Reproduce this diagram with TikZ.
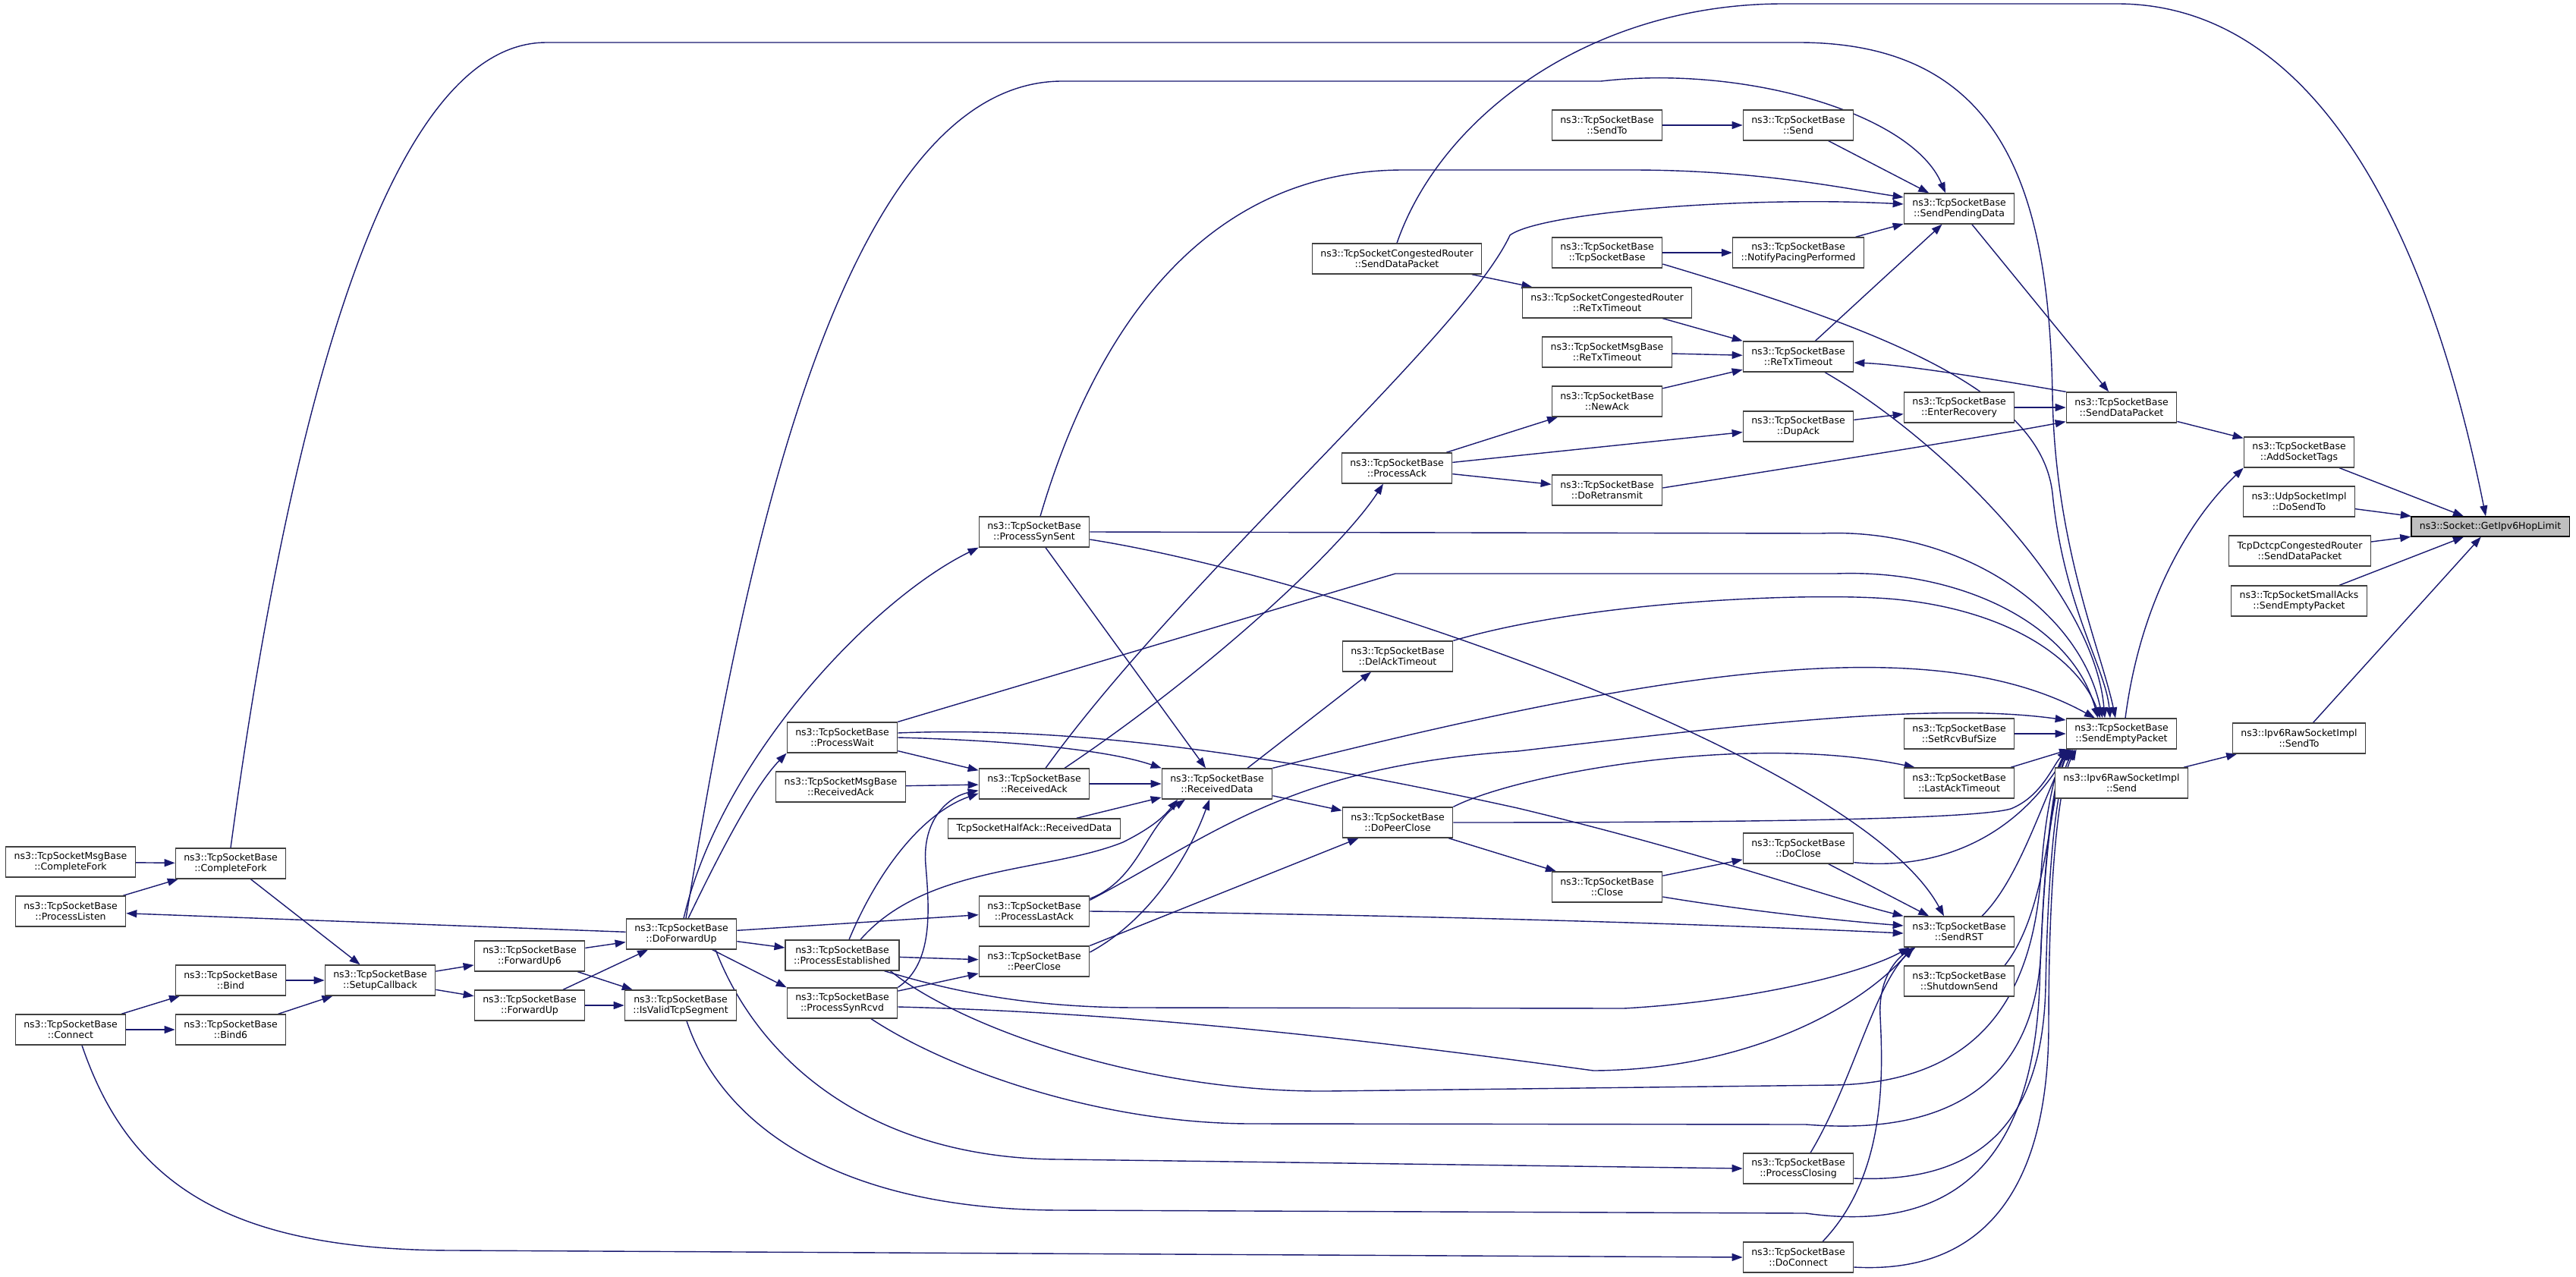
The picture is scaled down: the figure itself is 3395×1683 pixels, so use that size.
\documentclass[tikz,border=0pt]{standalone}
\usepackage{fontspec}
\setmainfont{DejaVu Sans}
\usetikzlibrary{arrows.meta,backgrounds}
\definecolor{edgeblue}{HTML}{191970}
\definecolor{boxgrey}{HTML}{404040}
\definecolor{hitgrey}{HTML}{BFBFBF}
\begin{document}
\begin{tikzpicture}[x=1pt,y=-1pt,
  fn/.style={draw=boxgrey,line width=1.3pt,fill=white,align=center,inner xsep=11pt,inner ysep=2pt,minimum height=40pt,font=\fontsize{12.5}{14}\selectfont},
  fnone/.style={fn,minimum height=26pt},
  call/.style={draw=edgeblue,line width=1.4pt,-{Triangle[length=14pt,width=10pt]}}]
\useasboundingbox (0,0) rectangle (3395,1683);
\node[fn] (msgcfork) at (93,1136) {ns3::TcpSocketMsgBase\\::CompleteFork};
\node[fn] (plisten) at (93,1201) {ns3::TcpSocketBase\\::ProcessListen};
\node[fn] (connect) at (93,1357) {ns3::TcpSocketBase\\::Connect};
\node[fn] (cfork) at (304,1138) {ns3::TcpSocketBase\\::CompleteFork};
\node[fn] (bind) at (304,1292) {ns3::TcpSocketBase\\::Bind};
\node[fn] (bindsix) at (304,1357) {ns3::TcpSocketBase\\::Bind6};
\node[fn] (setupcb) at (501,1292) {ns3::TcpSocketBase\\::SetupCallback};
\node[fn] (fwdsix) at (698,1260) {ns3::TcpSocketBase\\::ForwardUp6};
\node[fn] (fwd) at (698,1325) {ns3::TcpSocketBase\\::ForwardUp};
\node[fn] (dofwd) at (898,1231) {ns3::TcpSocketBase\\::DoForwardUp};
\node[fn] (isvalid) at (897,1325) {ns3::TcpSocketBase\\::IsValidTcpSegment};
\node[fn] (pwait) at (1110,972) {ns3::TcpSocketBase\\::ProcessWait};
\node[fn] (msgrack) at (1108,1037) {ns3::TcpSocketMsgBase\\::ReceivedAck};
\node[fn] (pest) at (1110,1259) {ns3::TcpSocketBase\\::ProcessEstablished};
\node[fn] (psynrcvd) at (1110,1322) {ns3::TcpSocketBase\\::ProcessSynRcvd};
\node[fn] (psynsent) at (1363,701) {ns3::TcpSocketBase\\::ProcessSynSent};
\node[fn] (rack) at (1363,1033) {ns3::TcpSocketBase\\::ReceivedAck};
\node[fnone] (halfack) at (1363,1092) {TcpSocketHalfAck::ReceivedData};
\node[fn] (plastack) at (1363,1201) {ns3::TcpSocketBase\\::ProcessLastAck};
\node[fn] (peerclose) at (1363,1267) {ns3::TcpSocketBase\\::PeerClose};
\node[fn] (rdata) at (1604,1033) {ns3::TcpSocketBase\\::ReceivedData};
\node[fn] (crsend) at (1841,341) {ns3::TcpSocketCongestedRouter\\::SendDataPacket};
\node[fn] (pack) at (1841,617) {ns3::TcpSocketBase\\::ProcessAck};
\node[fn] (delack) at (1842,865) {ns3::TcpSocketBase\\::DelAckTimeout};
\node[fn] (dopeer) at (1842,1084) {ns3::TcpSocketBase\\::DoPeerClose};
\node[fn] (sendto) at (2118,165) {ns3::TcpSocketBase\\::SendTo};
\node[fn] (tsb) at (2118,333) {ns3::TcpSocketBase\\::TcpSocketBase};
\node[fn] (crretx) at (2118,399) {ns3::TcpSocketCongestedRouter\\::ReTxTimeout};
\node[fn] (msgretx) at (2118,464) {ns3::TcpSocketMsgBase\\::ReTxTimeout};
\node[fn] (newack) at (2118,529) {ns3::TcpSocketBase\\::NewAck};
\node[fn] (doretx) at (2118,646) {ns3::TcpSocketBase\\::DoRetransmit};
\node[fn] (close) at (2118,1169) {ns3::TcpSocketBase\\::Close};
\node[fn] (send) at (2370,165) {ns3::TcpSocketBase\\::Send};
\node[fn] (pacing) at (2370,333) {ns3::TcpSocketBase\\::NotifyPacingPerformed};
\node[fn] (retx) at (2370,470) {ns3::TcpSocketBase\\::ReTxTimeout};
\node[fn] (dupack) at (2370,562) {ns3::TcpSocketBase\\::DupAck};
\node[fn] (doclose) at (2370,1118) {ns3::TcpSocketBase\\::DoClose};
\node[fn] (pclosing) at (2370,1540) {ns3::TcpSocketBase\\::ProcessClosing};
\node[fn] (doconn) at (2370,1657) {ns3::TcpSocketBase\\::DoConnect};
\node[fn] (spd) at (2582,275) {ns3::TcpSocketBase\\::SendPendingData};
\node[fn] (enterrec) at (2582,537) {ns3::TcpSocketBase\\::EnterRecovery};
\node[fn] (rcvbuf) at (2582,967) {ns3::TcpSocketBase\\::SetRcvBufSize};
\node[fn] (lastack) at (2582,1032) {ns3::TcpSocketBase\\::LastAckTimeout};
\node[fn] (sendrst) at (2582,1228) {ns3::TcpSocketBase\\::SendRST};
\node[fn] (shutdown) at (2582,1293) {ns3::TcpSocketBase\\::ShutdownSend};
\node[fn] (sdp) at (2796,537) {ns3::TcpSocketBase\\::SendDataPacket};
\node[fn] (sep) at (2796,967) {ns3::TcpSocketBase\\::SendEmptyPacket};
\node[fn] (rawsend) at (2796,1032) {ns3::Ipv6RawSocketImpl\\::Send};
\node[fn] (addtags) at (3030,596) {ns3::TcpSocketBase\\::AddSocketTags};
\node[fn] (udpsend) at (3030,661) {ns3::UdpSocketImpl\\::DoSendTo};
\node[fn] (dctcp) at (3031,726) {TcpDctcpCongestedRouter\\::SendDataPacket};
\node[fn] (smallacks) at (3030,792) {ns3::TcpSocketSmallAcks\\::SendEmptyPacket};
\node[fn] (rawsendto) at (3030,973) {ns3::Ipv6RawSocketImpl\\::SendTo};
\node[fnone,fill=hitgrey,draw=black] (hoplimit) at (3282,694) {ns3::Socket::GetIpv6HopLimit};
\begin{scope}[on background layer]
\draw[call] (msgcfork) -- (cfork);
\draw[call] (plisten) -- (cfork);
\draw[call] (cfork) -- (setupcb);
\draw[call] (dofwd) -- (plisten);
\draw[call] (connect) -- (bind);
\draw[call] (connect) -- (bindsix);
\draw[call] (bind) -- (setupcb);
\draw[call] (bindsix) -- (setupcb);
\draw[call] (setupcb) -- (fwdsix);
\draw[call] (setupcb) -- (fwd);
\draw[call] (fwdsix) -- (dofwd);
\draw[call] (fwd) -- (dofwd);
\draw[call] (fwdsix) -- (isvalid);
\draw[call] (fwd) -- (isvalid);
\draw[call] (dofwd) -- (plastack);
\draw[call] (dofwd) -- (pest);
\draw[call] (dofwd) -- (psynrcvd.north west);
\draw[call] (pwait) -- (rack);
\draw[call] (msgrack) -- (rack);
\draw[call] (rack) -- (rdata);
\draw[call] (halfack) -- (rdata);
\draw[call] (psynsent) -- (rdata);
\draw[call] (rdata) -- (dopeer);
\draw[call] ([xshift=40pt]rdata.north) -- ([xshift=-35pt]delack.south);
\draw[call] (pest) -- (peerclose);
\draw[call] (psynrcvd) -- (peerclose);
\draw[call] (peerclose.north east) -- (dopeer);
\draw[call] (dopeer) -- (close);
\draw[call] (close) -- (doclose);
\draw[call] (doclose) -- (sendrst);
\draw[call] (crsend) -- (crretx);
\draw[call] (crretx) -- (retx);
\draw[call] (msgretx) -- (retx);
\draw[call] (newack) -- (retx);
\draw[call] (pack) -- (newack);
\draw[call] (pack) -- (dupack);
\draw[call] (pack) -- (doretx);
\draw[call] (dupack) -- (enterrec);
\draw[call] (enterrec) -- (sdp);
\draw[call] (sendto) -- (send);
\draw[call] (send) -- (spd);
\draw[call] (tsb) -- (pacing);
\draw[call] (pacing) -- (spd);
\draw[call] (retx) -- (spd);
\draw[call] (spd) -- (sdp);
\draw[call] (sdp) -- (addtags);
\draw[call] (addtags) -- (hoplimit);
\draw[call] (udpsend) -- (hoplimit);
\draw[call] (dctcp) -- (hoplimit);
\draw[call] (smallacks) -- (hoplimit);
\draw[call] (rawsendto) -- (hoplimit);
\draw[call] (rawsend) -- (rawsendto);
\draw[call] (rcvbuf) -- (sep);
\draw[call] (lastack) -- (sep);
\draw[call] (cfork.north) .. controls (360,700) and (480,56) .. (720,56) -- (2370,56) .. controls (2640,56) and (2700,250) .. (2705,520) .. controls (2708,720) and (2770,860) .. ([xshift=-8pt]sep.north);
\draw[call] (crsend.north) .. controls (1900,150) and (2100,5) .. (2350,5) -- (2790,5) .. controls (3050,5) and (3200,300) .. ([xshift=-6pt]hoplimit.north);
\draw[call] ([xshift=6pt]dofwd.north) .. controls (960,880) and (1080,107) .. (1400,107) -- (2110,107) .. controls (2300,85) and (2520,150) .. ([xshift=-18pt]spd.north);
\draw[call] ([xshift=3pt]dofwd.north) .. controls (950,1000) and (1150,790) .. (psynsent.south west);
\draw[call] ([xshift=9pt]dofwd.north) .. controls (960,1100) and (1000,1030) .. (pwait.south west);
\draw[call] ([xshift=8pt]psynsent.north) .. controls (1430,480) and (1560,224) .. (1850,224) -- (2150,224) .. controls (2320,224) and (2440,250) .. ([yshift=15pt]spd.west);
\draw[call] ([xshift=15pt]rack.north) .. controls (1560,760) and (1930,440) .. (1990,310) .. controls (2030,280) and (2300,258) .. ([yshift=6pt]spd.west);
\draw[call] ([xshift=40pt]rack.north) .. controls (1600,880) and (1770,720) .. ([xshift=-18pt]pack.south);
\draw[call] (psynsent.east) -- (2400,703) .. controls (2580,695) and (2740,800) .. ([xshift=-25pt]sep.north);
\draw[call] ([yshift=-10pt]psynsent.east) .. controls (1750,760) and (2450,1000) .. ([xshift=-20pt]sendrst.north);
\draw[call] (pwait.north east) -- (1839,756) -- (2420,756) .. controls (2580,750) and (2730,820) .. ([xshift=-31pt]sep.north);
\draw[call] (pwait.east) .. controls (1300,975) and (1450,985) .. (rdata.north west);
\draw[call] ([yshift=6pt]pwait.east) .. controls (1450,955) and (1750,1010) .. (2000,1065) .. controls (2250,1125) and (2400,1180) .. (sendrst.north west);
\draw[call] ([xshift=9pt]pest.north) .. controls (1160,1140) and (1220,1070) .. ([yshift=8pt]rack.south west);
\draw[call] (psynrcvd.north east) .. controls (1230,1270) and (1225,1200) .. (1220,1140) .. controls (1215,1080) and (1250,1050) .. ([yshift=12pt]rack.south west);
\draw[call] ([xshift=24pt]pest.north) .. controls (1220,1140) and (1380,1150) .. (1480,1110) .. controls (1520,1090) and (1535,1075) .. ([xshift=-52pt]rdata.south);
\draw[call] ([yshift=-4pt]plastack.north east) .. controls (1500,1160) and (1510,1090) .. ([xshift=-42pt]rdata.south);
\draw[call] ([yshift=-6pt]plastack.north east) .. controls (1600,1100) and (1700,1010) .. (2000,990) .. controls (2300,955) and (2550,925) .. ([yshift=18pt]sep.west);
\draw[call] (plastack.east) .. controls (1900,1206) and (2300,1220) .. ([yshift=-2pt]sendrst.west);
\draw[call] ([yshift=12pt]peerclose.east) .. controls (1520,1210) and (1570,1120) .. ([xshift=-10pt]rdata.south);
\draw[call] ([xshift=45pt]dofwd.south) .. controls (1000,1400) and (1150,1528) .. (1400,1528) -- (pclosing.west);
\draw[call] ([xshift=8pt]isvalid.south) .. controls (950,1480) and (1100,1595) .. (1400,1595) -- (2380,1599) .. controls (2600,1630) and (2680,1500) .. (2688,1300) .. controls (2694,1100) and (2712,1010) .. ([xshift=10pt]sep.south west);
\draw[call] ([xshift=15pt]connect.south) .. controls (170,1560) and (300,1648) .. (600,1648) -- (doconn.west);
\draw[call] ([xshift=-20pt]pest.south east) .. controls (1250,1305) and (1350,1328) .. (1500,1328) -- (2140,1329) .. controls (2300,1320) and (2450,1285) .. ([xshift=8pt]sendrst.south west);
\draw[call] ([xshift=-12pt]pest.south east) .. controls (1260,1350) and (1500,1440) .. (1750,1438) -- (2420,1430) .. controls (2620,1425) and (2680,1300) .. (2690,1150) .. controls (2696,1060) and (2712,1005) .. ([xshift=6pt]sep.south west);
\draw[call] ([yshift=-5pt]psynrcvd.east) .. controls (1500,1335) and (1800,1370) .. (2100,1411) .. controls (2300,1410) and (2450,1330) .. ([xshift=12pt]sendrst.south west);
\draw[call] ([xshift=38pt]psynrcvd.south) .. controls (1250,1410) and (1450,1481) .. (1650,1481) -- (2380,1482) .. controls (2600,1500) and (2684,1400) .. (2690,1250) .. controls (2696,1090) and (2712,1005) .. ([xshift=8pt]sep.south west);
\draw[call] ([xshift=16pt]pclosing.north) .. controls (2440,1430) and (2470,1300) .. ([xshift=14pt]sendrst.south west);
\draw[call] ([yshift=-13pt]pclosing.east) .. controls (2610,1560) and (2692,1480) .. (2696,1300) .. controls (2700,1100) and (2715,1020) .. ([xshift=12pt]sep.south west);
\draw[call] ([xshift=32pt]doconn.north) .. controls (2485,1550) and (2482,1420) .. (2478,1340) .. controls (2475,1290) and (2500,1262) .. ([xshift=16pt]sendrst.south west);
\draw[call] ([yshift=-13pt]doconn.east) .. controls (2620,1680) and (2700,1560) .. (2700,1350) .. controls (2700,1120) and (2718,1020) .. ([xshift=14pt]sep.south west);
\draw[call] ([yshift=2pt]doclose.south east) .. controls (2560,1148) and (2660,1100) .. ([xshift=4pt]sep.south west);
\draw[call] (dopeer.east) .. controls (2300,1084) and (2600,1080) .. (2650,1066) .. controls (2690,1050) and (2705,1010) .. ([xshift=2pt]sep.south west);
\draw[call] (dopeer.north east) .. controls (2000,1020) and (2300,965) .. ([xshift=15pt]lastack.north west);
\draw[call] ([yshift=-13pt]close.east) .. controls (2300,1200) and (2420,1213) .. ([yshift=8pt]sendrst.west);
\draw[call] ([xshift=30pt]sendrst.north) .. controls (2660,1160) and (2690,1060) .. ([xshift=3pt]sep.south west);
\draw[call] ([xshift=60pt]shutdown.north) .. controls (2700,1200) and (2700,1050) .. ([xshift=5pt]sep.south west);
\draw[call] (rdata.north east) .. controls (2200,880) and (2550,830) .. ([xshift=-35pt]sep.north);
\draw[call] (delack.north east) .. controls (2100,790) and (2400,780) .. (2500,790) .. controls (2650,805) and (2740,870) .. ([xshift=-28pt]sep.north);
\draw[call] ([xshift=35pt]retx.south) .. controls (2560,580) and (2760,780) .. ([xshift=-22pt]sep.north);
\draw[call] ([yshift=-15pt]tsb.east) .. controls (2500,440) and (2690,520) .. (2705,650) .. controls (2720,800) and (2775,880) .. ([xshift=-15pt]sep.north);
\draw[call] ([yshift=3pt]doretx.east) .. controls (2400,610) and (2620,575) .. ([yshift=2pt]sdp.south west);
\draw[call] (sdp.north west) .. controls (2600,495) and (2500,480) .. ([yshift=-8pt]retx.east);
\draw[call] ([xshift=5pt]sep.north) .. controls (2820,800) and (2880,690) .. (addtags.south west);
\end{scope}
\end{tikzpicture}
\end{document}
